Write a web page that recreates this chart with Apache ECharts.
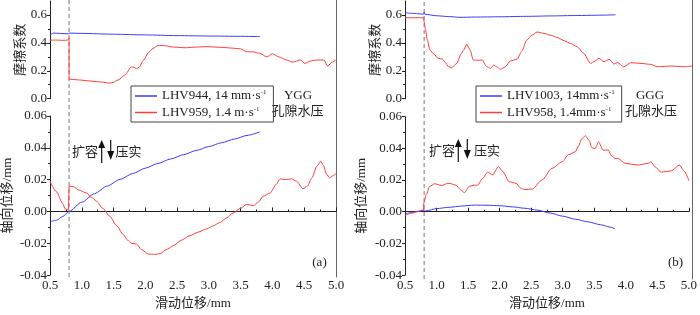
<!DOCTYPE html>
<html>
<head>
<meta charset="utf-8">
<script src="https://cdn.jsdelivr.net/npm/echarts@6/dist/echarts.min.js"></script>
<style>
  html, body { margin: 0; padding: 0; background: #fff; }
  #chart { width: 700px; height: 315px; }
</style>
</head>
<body>
<div id="chart"></div>
<script>
// ---- data (sliding displacement mm, value) ----
var nameA1 = 'LHV944, 14 mm·s';
var nameA2 = 'LHV959, 1.4 m·s';
var nameB1 = 'LHV1003, 14mm·s';
var nameB2 = 'LHV958, 1.4mm·s';
var stepX = 0.8;

var frictionA1 = [[0.5,0.455],[0.55,0.47],[0.79,0.465],[0.8,0.47],[1.0,0.468],[1.5,0.462],[2.0,0.457],[2.5,0.452],[3.0,0.449],[3.5,0.447],[3.8,0.445]];
var frictionA2 = [[0.5,0.42],[0.6,0.42],[0.7,0.418],[0.78,0.42],[0.8,0.435],[0.8,0.14],[0.85,0.138],[0.97,0.134],[1.1,0.128],[1.29,0.12],[1.44,0.112],[1.5,0.118],[1.57,0.134],[1.68,0.17],[1.78,0.228],[1.82,0.225],[1.86,0.215],[1.9,0.225],[1.97,0.275],[2.05,0.33],[2.12,0.36],[2.2,0.382],[2.3,0.38],[2.44,0.37],[2.63,0.365],[2.8,0.37],[2.96,0.373],[3.2,0.368],[3.38,0.362],[3.5,0.357],[3.59,0.337],[3.7,0.335],[3.8,0.325],[3.91,0.3],[4.0,0.322],[4.1,0.3],[4.22,0.277],[4.32,0.262],[4.44,0.278],[4.51,0.253],[4.6,0.27],[4.69,0.277],[4.81,0.277],[4.87,0.235],[4.94,0.262],[5.0,0.278]];
var axialA1 = [[0.5,-0.0065],[0.6,-0.0056],[0.7,-0.0032],[0.8,0.0],[1.0,0.0058],[1.2,0.0112],[1.4,0.016],[1.6,0.0201],[1.8,0.0238],[2.0,0.0272],[2.2,0.0302],[2.4,0.033],[2.6,0.0357],[2.8,0.0383],[3.0,0.0408],[3.2,0.0432],[3.4,0.0455],[3.6,0.0478],[3.8,0.05]];
var axialA2 = [[0.5,0.019],[0.6,0.0125],[0.7,0.005],[0.74,0.0015],[0.79,0.001],[0.8,0.016],[0.87,0.0155],[0.95,0.0135],[1.08,0.0115],[1.15,0.009],[1.23,0.0065],[1.33,0.002],[1.44,-0.003],[1.55,-0.009],[1.65,-0.0144],[1.72,-0.018],[1.78,-0.02],[1.86,-0.0205],[1.94,-0.024],[2.05,-0.0268],[2.15,-0.027],[2.23,-0.0265],[2.33,-0.024],[2.44,-0.0215],[2.57,-0.018],[2.7,-0.0152],[2.83,-0.013],[2.96,-0.011],[3.07,-0.009],[3.17,-0.007],[3.28,-0.004],[3.38,-0.001],[3.5,0.002],[3.59,0.0044],[3.7,0.0037],[3.78,0.006],[3.85,0.0095],[3.96,0.0115],[4.06,0.017],[4.12,0.0205],[4.2,0.02],[4.3,0.0205],[4.38,0.019],[4.48,0.0142],[4.55,0.016],[4.62,0.021],[4.7,0.0285],[4.76,0.0315],[4.8,0.029],[4.85,0.0235],[4.9,0.021],[4.95,0.0225],[5.0,0.0238]];

var frictionB1 = [[0.5,0.616],[0.6,0.612],[0.7,0.609],[0.79,0.606],[0.8,0.62],[0.81,0.605],[1.0,0.594],[1.2,0.588],[1.36,0.583],[1.6,0.585],[1.99,0.587],[2.4,0.59],[2.78,0.593],[3.2,0.596],[3.5,0.598],[3.8,0.601]];
var frictionB2 = [[0.5,0.58],[0.79,0.58],[0.8,0.55],[0.82,0.5],[0.85,0.42],[0.89,0.35],[0.95,0.32],[1.02,0.29],[1.09,0.283],[1.13,0.26],[1.18,0.23],[1.23,0.222],[1.31,0.252],[1.38,0.32],[1.42,0.35],[1.47,0.39],[1.52,0.35],[1.57,0.278],[1.64,0.275],[1.71,0.277],[1.78,0.23],[1.84,0.217],[1.89,0.24],[1.94,0.228],[2.0,0.21],[2.07,0.228],[2.15,0.27],[2.26,0.283],[2.33,0.34],[2.41,0.42],[2.49,0.455],[2.57,0.478],[2.68,0.468],[2.78,0.455],[2.88,0.44],[3.0,0.415],[3.1,0.395],[3.2,0.372],[3.3,0.325],[3.41,0.253],[3.46,0.265],[3.54,0.289],[3.62,0.265],[3.7,0.282],[3.78,0.248],[3.83,0.26],[3.93,0.229],[4.04,0.258],[4.2,0.253],[4.35,0.246],[4.46,0.229],[4.67,0.234],[4.88,0.229],[5.0,0.234]];
var axialB1 = [[0.5,-0.0014],[0.6,-0.0005],[0.7,0.0003],[0.81,0.001],[0.83,0.0005],[1.0,0.002],[1.2,0.0028],[1.4,0.0036],[1.6,0.0042],[1.8,0.0041],[2.0,0.0038],[2.2,0.0031],[2.4,0.0022],[2.6,0.001],[2.8,-0.0008],[3.0,-0.0028],[3.2,-0.0047],[3.4,-0.0064],[3.6,-0.0082],[3.75,-0.0097],[3.83,-0.0107]];
var axialB2 = [[0.5,-0.0025],[0.6,-0.001],[0.7,0.0],[0.79,0.001],[0.8,0.0058],[0.84,0.011],[0.89,0.016],[0.97,0.0177],[1.08,0.0165],[1.18,0.018],[1.25,0.0175],[1.31,0.0167],[1.38,0.014],[1.44,0.012],[1.52,0.016],[1.6,0.0168],[1.65,0.0167],[1.73,0.021],[1.81,0.025],[1.89,0.0233],[1.98,0.0285],[2.05,0.0254],[2.15,0.019],[2.26,0.018],[2.33,0.015],[2.39,0.014],[2.52,0.0144],[2.67,0.02],[2.83,0.0274],[2.99,0.0315],[3.09,0.036],[3.2,0.0378],[3.25,0.0414],[3.3,0.046],[3.36,0.048],[3.42,0.045],[3.46,0.0405],[3.51,0.0398],[3.57,0.044],[3.64,0.0388],[3.72,0.039],[3.78,0.035],[3.83,0.0336],[3.88,0.0336],[3.99,0.0305],[4.19,0.0295],[4.35,0.0305],[4.4,0.0315],[4.46,0.0285],[4.56,0.025],[4.72,0.0258],[4.85,0.0295],[4.93,0.0254],[5.0,0.0196]];

var BLUE = '#3a3aff', RED = '#ff3a3a';
var FONT = '"Liberation Serif", "Noto Sans CJK SC", serif';

var chart = echarts.init(document.getElementById('chart'));

function xAx(grid, shown) {
  return {
    type: 'value', gridIndex: grid, min: 0.5, max: 5.0, interval: 0.5, show: shown,
    name: shown ? '滑动位移/mm' : '', nameLocation: 'middle', nameGap: 21,
    nameTextStyle: { fontFamily: FONT, fontSize: 13, color: '#222' },
    axisLine: { lineStyle: { color: '#222', width: 1 } },
    axisTick: { inside: true, length: 4, lineStyle: { color: '#222' } },
    minorTick: { show: true, splitNumber: 2, length: 2, lineStyle: { color: '#222' } },
    axisLabel: { margin: 4, fontFamily: FONT, fontSize: 13, color: '#222', formatter: function (v) { return v.toFixed(1); } },
    splitLine: { show: false }
  };
}
function yAx(grid, kind, gap) {
  var fr = kind === 'f';
  return {
    type: 'value', gridIndex: grid,
    min: fr ? 0 : -0.04, max: fr ? 0.7 : 0.06, interval: fr ? 0.2 : 0.02,
    name: fr ? '摩擦系数' : '轴向位移/mm', nameLocation: 'middle', nameGap: gap,
    nameTextStyle: { fontFamily: FONT, fontSize: 13, color: '#222' },
    axisLine: { show: true, lineStyle: { color: '#222', width: 1 } },
    axisTick: { show: true, length: 3, lineStyle: { color: '#222' }, customValues: fr ? [0, 0.2, 0.4, 0.6] : undefined },
    minorTick: { show: true, splitNumber: 2, length: 2, lineStyle: { color: '#222' } },
    axisLabel: { margin: 3, fontFamily: FONT, fontSize: 13, color: '#222', showMaxLabel: !fr,
      formatter: function (v) { return fr ? v.toFixed(1) : v.toFixed(2); } },
    splitLine: { show: false }
  };
}
function line(name, data, color, xi, yi) {
  return { name: name, type: 'line', xAxisIndex: xi, yAxisIndex: yi, data: data,
    showSymbol: false, symbol: 'none', smooth: 0.25, smoothMonotone: 'x',
    lineStyle: { color: color, width: 1 }, itemStyle: { color: color }, silent: true, z: 3 };
}
function stepLine(xi, yi) {
  return { type: 'line', xAxisIndex: xi, yAxisIndex: yi, data: [[stepX, 0], [stepX, 1]],
    showSymbol: false, symbol: 'none', silent: true,
    lineStyle: { color: '#777', width: 1, type: [4, 3] }, z: 1 };
}
function legendCfg(names, left) {
  return {
    data: names, left: left, top: 86, orient: 'vertical',
    icon: 'rect', itemWidth: 22, itemHeight: 1.5, itemGap: 3, padding: [3, 7, 3, 4],
    borderColor: '#444', borderWidth: 1, borderRadius: 0, selectedMode: false,
    formatter: function (n) { return '{t|' + n + '}{s|-1}'; },
    textStyle: { fontFamily: FONT, fontSize: 13, color: '#222',
      rich: { t: { fontFamily: FONT, fontSize: 13, lineHeight: 14, color: '#222' },
              s: { fontFamily: FONT, fontSize: 7, lineHeight: 8, verticalAlign: 'top', color: '#222' } } }
  };
}
function txt(x, y, s) {
  return { type: 'text', x: x, y: y, silent: true,
    style: { text: s, fontFamily: FONT, fontSize: 13, fill: '#222', align: 'center', verticalAlign: 'middle' } };
}
function arrows(x, y) {
  return [
    { type: 'line', silent: true, shape: { x1: x, y1: y + 5, x2: x, y2: y + 23 }, style: { stroke: '#111', lineWidth: 1.2 } },
    { type: 'polygon', silent: true, shape: { points: [[x - 3.5, y + 8], [x + 3.5, y + 8], [x, y]] }, style: { fill: '#111' } },
    { type: 'line', silent: true, shape: { x1: x + 9, y1: y, x2: x + 9, y2: y + 13 }, style: { stroke: '#111', lineWidth: 1.2 } },
    { type: 'polygon', silent: true, shape: { points: [[x + 5.5, y + 11], [x + 12.5, y + 11], [x + 9, y + 20]] }, style: { fill: '#111' } }
  ];
}

var overlayY = function (grid) {
  return { type: 'value', gridIndex: grid, min: 0, max: 1, position: 'right',
    axisLine: { show: true, lineStyle: { color: '#666', width: 1 } },
    axisTick: { show: false }, axisLabel: { show: false }, splitLine: { show: false } };
};
var overlayX = function (grid) {
  return { type: 'value', gridIndex: grid, min: 0.5, max: 5.0, show: false };
};

var option = {
  animation: false,
  grid: [
    { left: 50, width: 286, top: 1, height: 97.7 },
    { left: 50, width: 286, top: 116, height: 161 },
    { left: 405, width: 287, top: 1, height: 97.7 },
    { left: 405, width: 287, top: 116.7, height: 162.3 },
    { left: 50, width: 286, top: 0, height: 277 },
    { left: 405, width: 287, top: 0, height: 279 }
  ],
  xAxis: [xAx(0, false), xAx(1, true), xAx(2, false), xAx(3, true), overlayX(4), overlayX(5)],
  yAxis: [yAx(0, 'f', 22), yAx(1, 'a', 36), yAx(2, 'f', 22), yAx(3, 'a', 37), overlayY(4), overlayY(5)],
  legend: [legendCfg([nameA1, nameA2], 131), legendCfg([nameB1, nameB2], 476)],
  series: [
    stepLine(4, 4), stepLine(5, 5),
    line(nameA1, frictionA1, BLUE, 0, 0),
    line(nameA2, frictionA2, RED, 0, 0),
    line(nameA1, axialA1, BLUE, 1, 1),
    line(nameA2, axialA2, RED, 1, 1),
    line(nameB1, frictionB1, BLUE, 2, 2),
    line(nameB2, frictionB2, RED, 2, 2),
    line(nameB1, axialB1, BLUE, 3, 3),
    line(nameB2, axialB2, RED, 3, 3)
  ],
  graphic: [
    txt(298, 96, 'YGG'), txt(297.5, 111.5, '孔隙水压'),
    txt(650, 96, 'GGG'), txt(651, 112, '孔隙水压'),
    txt(85, 153, '扩容'), txt(128.5, 153, '压实'),
    txt(442, 152, '扩容'), txt(487, 152, '压实'),
    txt(319.5, 263, '(a)'), txt(675.5, 263, '(b)')
  ].concat(arrows(101.7, 140)).concat(arrows(458.3, 139))
};
chart.setOption(option);
</script>
</body>
</html>
